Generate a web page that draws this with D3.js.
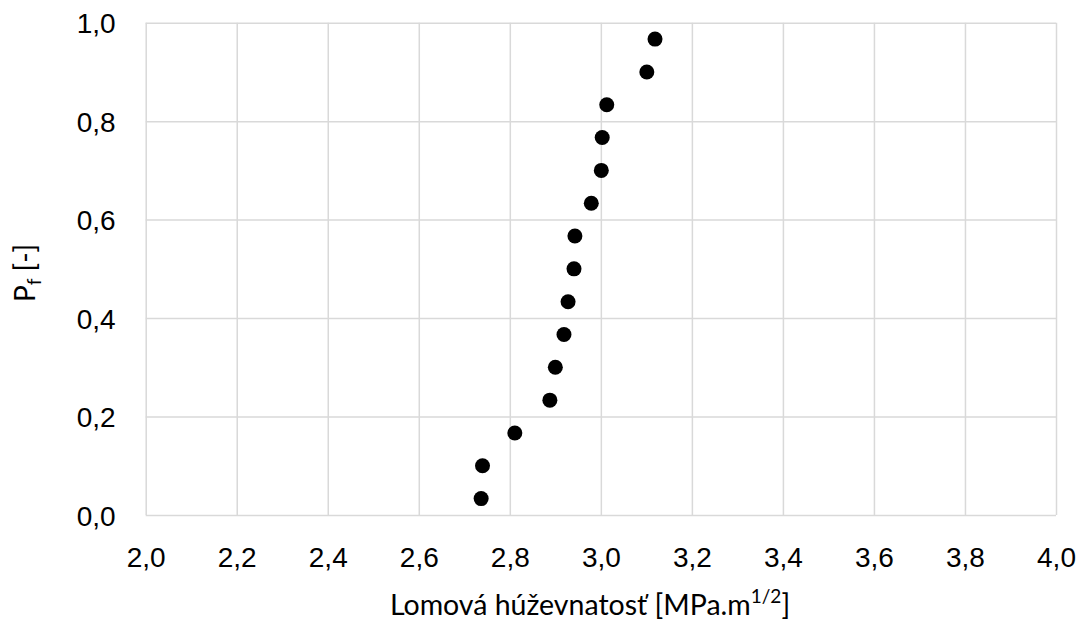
<!DOCTYPE html>
<html>
<head>
<meta charset="utf-8">
<script src="https://cdn.jsdelivr.net/npm/d3@7"></script>
<style>
  html, body { margin: 0; padding: 0; background: #fff; }
  svg { display: block; font-family: Lato, "Open Sans", sans-serif; }
</style>
</head>
<body>
<svg id="chart" width="1079" height="626"></svg>
<script>
// Data
const toughness = [2.737, 2.740, 2.811, 2.888, 2.900, 2.919, 2.928, 2.941, 2.943, 2.979, 3.001, 3.003, 3.013, 3.101, 3.119];
const probability = [0.0333, 0.1, 0.1667, 0.2333, 0.3, 0.3667, 0.4333, 0.5, 0.5667, 0.6333, 0.7, 0.7667, 0.8333, 0.9, 0.9667];
const xTicks = [2.0, 2.2, 2.4, 2.6, 2.8, 3.0, 3.2, 3.4, 3.6, 3.8, 4.0];
const yTicks = [0.0, 0.2, 0.4, 0.6, 0.8, 1.0];
const xTitle = "Lomová húževnatosť [MPa.m";
const xTitleSup = "1/2";
const xTitleEnd = "]";
const yTitleMain = "P";
const yTitleSub = "f";
const yTitleRest = " [-]";

const svg = d3.select("#chart");
const x = d3.scaleLinear().domain([2.0, 4.0]).range([145.7, 1056]);
const y = d3.scaleLinear().domain([0.0, 1.0]).range([515, 22.7]);
const fmt = d => d.toFixed(1).replace(".", ",");
const gridColor = "#d9d9d9";

// vertical grid + x tick labels
svg.append("g")
  .attr("transform", `translate(0,${y(0)})`)
  .call(d3.axisBottom(x).tickValues(xTicks).tickSize(-(y(0) - y(1))).tickFormat(fmt).tickPadding(32))
  .call(g => g.select(".domain").remove())
  .call(g => g.selectAll(".tick line").attr("stroke", gridColor).attr("stroke-width", 1.5))
  .call(g => g.selectAll(".tick text").attr("font-size", 28).attr("fill", "#000").attr("dy", "0.71em"));

// horizontal grid + y tick labels
svg.append("g")
  .attr("transform", `translate(${x(2)},0)`)
  .call(d3.axisLeft(y).tickValues(yTicks).tickSize(-(x(4) - x(2))).tickFormat(fmt).tickPadding(30))
  .call(g => g.select(".domain").remove())
  .call(g => g.selectAll(".tick line").attr("stroke", gridColor).attr("stroke-width", 1.5))
  .call(g => g.selectAll(".tick text").attr("font-size", 28).attr("fill", "#000").attr("dy", "0.36em"));

// points
svg.append("g")
  .selectAll("circle")
  .data(toughness.map((v, i) => [v, probability[i]]))
  .join("circle")
  .attr("cx", d => x(d[0]))
  .attr("cy", d => y(d[1]))
  .attr("r", 7.5)
  .attr("fill", "#000");

// x title
const xt = svg.append("text")
  .attr("x", 590)
  .attr("y", 615)
  .attr("text-anchor", "middle")
  .attr("font-size", 28.5)
  .attr("fill", "#000");
xt.append("tspan").text(xTitle);
xt.append("tspan").attr("font-size", 19).attr("dy", -12).text(xTitleSup);
xt.append("tspan").attr("dy", 12).text(xTitleEnd);

// y title
const yt = svg.append("text")
  .attr("transform", `translate(35,273) rotate(-90)`)
  .attr("text-anchor", "middle")
  .attr("font-size", 28)
  .attr("fill", "#000");
yt.append("tspan").text(yTitleMain);
yt.append("tspan").attr("font-size", 19).attr("dy", 6).text(yTitleSub);
yt.append("tspan").attr("dy", -6).text(yTitleRest);
</script>
</body>
</html>
